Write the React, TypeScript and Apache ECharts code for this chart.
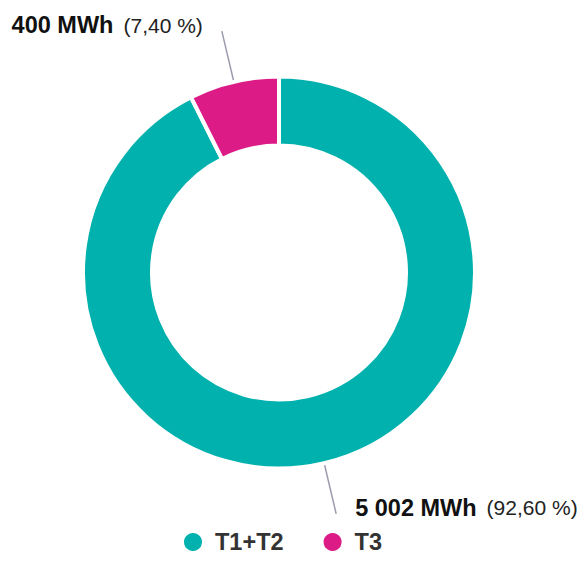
import React, { useEffect, useRef } from "react";
import * as echarts from "echarts";

const categories = ["T1+T2", "T3"];
const values = [5002, 400];
const valueLabels = ["5 002 MWh", "400 MWh"];
const percentLabels = ["(92,60 %)", "(7,40 %)"];
const colors = ["#00b1ad", "#dd1b86"];

const FONT = "'Liberation Sans', Arial, Helvetica, sans-serif";

export default function App() {
  const ref = useRef<HTMLDivElement>(null);
  useEffect(() => {
    if (!ref.current) return;
    const chart = echarts.init(ref.current, undefined, { renderer: "svg" });
    chart.setOption({
      animation: false,
      legend: {
        data: categories,
        left: 177,
        top: 525,
        icon: "circle",
        itemWidth: 20,
        itemHeight: 20,
        itemGap: 38,
        textStyle: {
          fontFamily: FONT,
          fontSize: 23.5,
          fontWeight: "bold",
          color: "#333333",
          padding: [0, 0, 0, 7],
        },
      },
      series: [
        {
          type: "pie",
          center: [279, 272.5],
          radius: [127, 196],
          startAngle: 90,
          clockwise: true,
          avoidLabelOverlap: false,
          itemStyle: { borderColor: "#ffffff", borderWidth: 4 },
          label: {
            show: true,
            position: "outside",
            distanceToLabelLine: 19,
            fontFamily: FONT,
            padding: [0, 0, 12, 0],
            formatter: (p: any) =>
              `{v|${valueLabels[p.dataIndex]}}{p|${percentLabels[p.dataIndex]}}`,
            rich: {
              v: { fontFamily: FONT, fontSize: 23.5, fontWeight: "bold", color: "#111111" },
              p: { fontFamily: FONT, fontSize: 21, color: "#222222", padding: [0, 0, 0, 10] },
            },
          },
          labelLine: {
            show: true,
            length: 52,
            length2: 0,
            lineStyle: { color: "#9a9cad", width: 1.5 },
          },
          data: categories.map((name, i) => ({
            name,
            value: values[i],
            itemStyle: { color: colors[i] },
          })),
        },
      ],
    });
    return () => chart.dispose();
  }, []);
  return <div ref={ref} style={{ width: 585, height: 581, margin: -8 }} />;
}
